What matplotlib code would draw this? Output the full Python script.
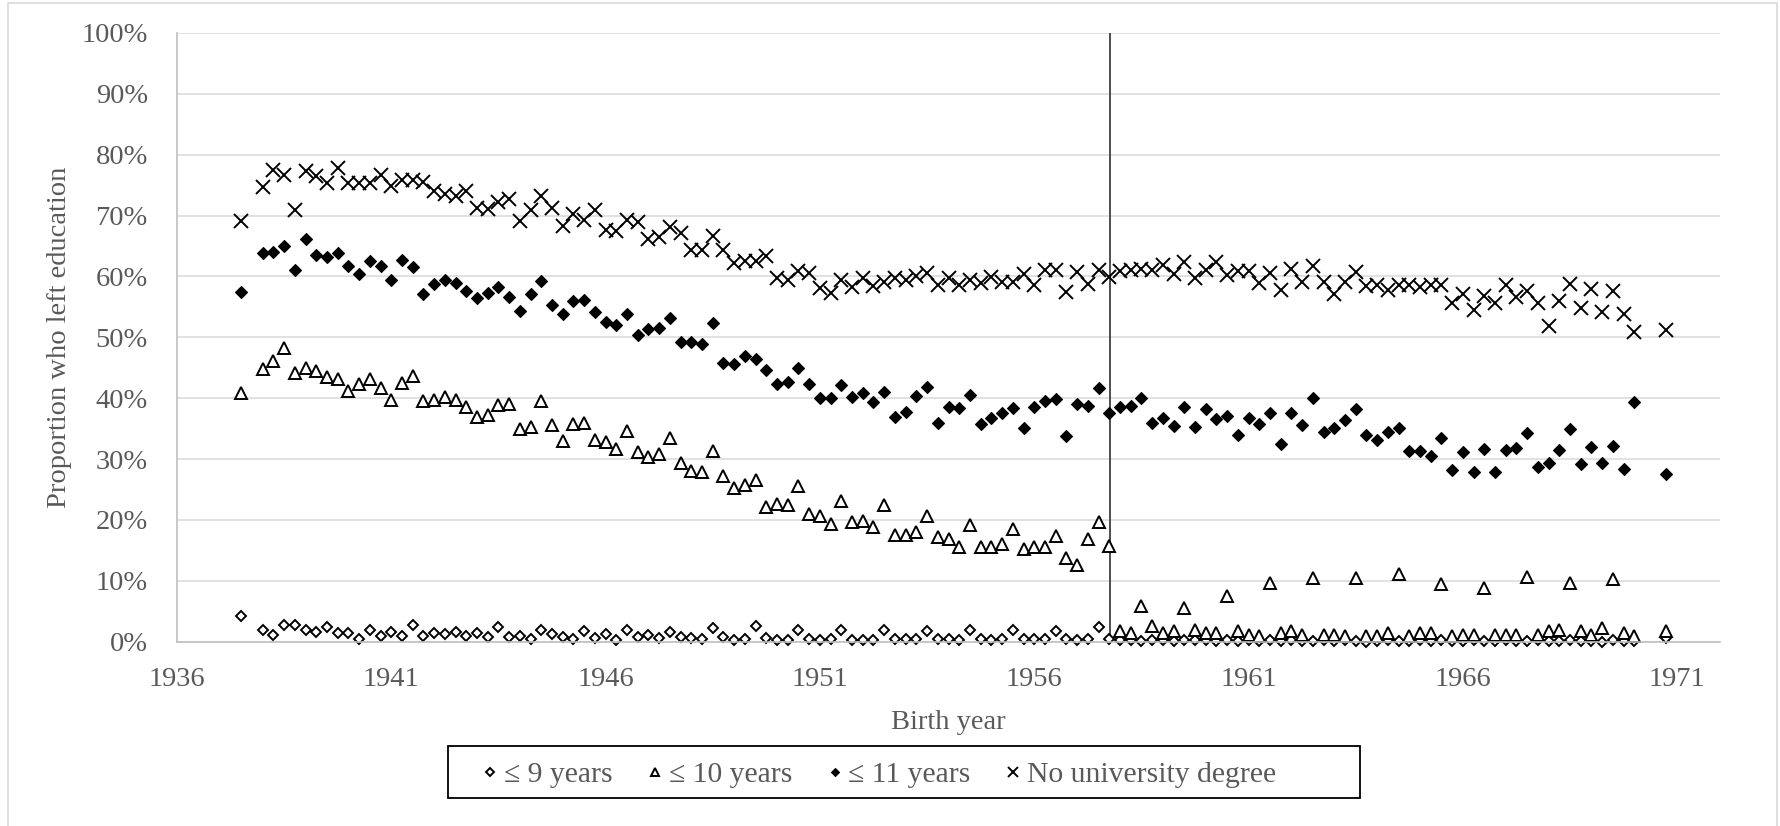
import numpy as np
import matplotlib
matplotlib.use("Agg")
import matplotlib.pyplot as plt
from matplotlib.patches import Rectangle
from matplotlib.ticker import FuncFormatter

plt.rcParams['font.family'] = ['Liberation Serif', 'DejaVu Serif']

###########################
### DATA ###
###########################
# birth quarter: 1937 Q3, then every quarter 1938 Q1 .. 1970 Q1, then 1970 Q4
birth_year = [1937.5] + list(np.arange(1938.0, 1970.01, 0.25)) + [1970.75]

# proportion (%) who left education with at most 9 years of schooling
le9_years = [4.2,
             1.9, 1.1, 2.7, 2.7,  1.9, 1.6, 2.4, 1.5,  1.4, 0.5, 1.9, 1.0,  1.6, 1.0, 2.7, 1.0,
             1.4, 1.2, 1.6, 1.0,  1.4, 0.7, 2.4, 0.8,  1.0, 0.4, 1.9, 1.2,  0.7, 0.5, 1.7, 0.6,
             1.2, 0.3, 1.9, 0.7,  1.1, 0.6, 1.6, 0.8,  0.6, 0.5, 2.2, 0.8,  0.3, 0.4, 2.6, 0.6,
             0.2, 0.3, 2.0, 0.5,  0.3, 0.4, 2.0, 0.3,  0.3, 0.3, 2.0, 0.5,  0.5, 0.4, 1.7, 0.5,
             0.4, 0.3, 1.9, 0.5,  0.2, 0.4, 2.0, 0.4,  0.4, 0.4, 1.8, 0.4,  0.3, 0.4, 2.4, 0.5,
             0.3, 0.2, 0.1, 0.3,  0.2, 0.1, 0.2, 0.2,  0.3, 0.1, 0.2, 0.1,  0.2, 0.1, 0.3, 0.1,
             0.2, 0.1, 0.1, 0.2,  0.1, 0.2, 0.1, 0.0,  0.1, 0.2, 0.1, 0.1,  0.2, 0.1, 0.2, 0.1,
             0.1, 0.2, 0.1, 0.1,  0.2, 0.1, 0.1, 0.2,  0.1, 0.1, 0.2, 0.1,  0.1, 0.0, 0.2, 0.1,
             0.1,
             0.6]

# at most 10 years
le10_years = [40.8,
              44.8, 46.1, 48.3, 44.1,  44.9, 44.5, 43.5, 43.2,  41.2, 42.4, 43.2, 41.6,  39.7, 42.5, 43.7, 39.6,
              39.7, 40.2, 39.7, 38.5,  36.9, 37.2, 38.9, 39.0,  35.0, 35.2, 39.6, 35.6,  32.9, 35.7, 36.0, 33.2,
              32.8, 31.6, 34.6, 31.2,  30.3, 30.8, 33.4, 29.3,  28.0, 27.9, 31.4, 27.3,  25.3, 25.7, 26.5, 22.2,
              22.7, 22.4, 25.5, 21.0,  20.6, 19.4, 23.1, 19.7,  19.8, 18.9, 22.4, 17.5,  17.5, 18.0, 20.6, 17.2,
              16.8, 15.6, 19.1, 15.5,  15.5, 16.0, 18.5, 15.3,  15.6, 15.6, 17.3, 13.8,  12.6, 16.8, 19.7, 15.7,
              1.8, 1.5, 5.9, 2.6,  1.4, 1.8, 5.5, 1.9,  1.5, 1.4, 7.5, 1.7,  1.1, 0.9, 9.6, 1.4,
              1.7, 1.1, 10.5, 1.1,  1.1, 1.0, 10.4, 1.0,  0.9, 1.4, 11.2, 1.0,  1.4, 1.5, 9.5, 0.9,
              1.1, 1.1, 8.8, 1.1,  1.1, 1.1, 10.6, 1.1,  1.7, 1.9, 9.7, 1.7,  1.1, 2.2, 10.3, 1.5,
              1.0,
              1.7]

# at most 11 years
le11_years = [57.5,
              63.9, 64.0, 65.0, 61.0,  66.1, 63.5, 63.2, 63.9,  61.7, 60.4, 62.6, 61.7,  59.5, 62.7, 61.5, 57.1,
              58.8, 59.5, 58.9, 57.6,  56.4, 57.3, 58.3, 56.7,  54.4, 57.1, 59.2, 55.3,  53.8, 55.9, 56.2, 54.2,
              52.6, 52.0, 53.9, 50.4,  51.3, 51.6, 53.2, 49.3,  49.2, 48.9, 52.4, 45.8,  45.7, 46.9, 46.4, 44.7,
              42.4, 42.7, 45.0, 42.4,  40.0, 40.0, 42.1, 40.2,  40.8, 39.4, 41.0, 36.9,  37.8, 40.3, 41.8, 36.0,
              38.6, 38.4, 40.6, 35.7,  36.8, 37.5, 38.4, 35.1,  38.6, 39.6, 39.8, 33.8,  39.0, 38.7, 41.7, 37.6,
              38.6, 38.7, 40.1, 36.0,  36.7, 35.4, 38.5, 35.2,  38.2, 36.6, 37.1, 34.0,  36.8, 35.7, 37.6, 32.5,
              37.6, 35.6, 40.1, 34.5,  35.1, 36.4, 38.3, 34.0,  33.2, 34.4, 35.1, 31.3,  31.4, 30.5, 33.5, 28.2,
              31.2, 27.8, 31.6, 27.8,  31.5, 31.8, 34.3, 28.7,  29.4, 31.5, 35.0, 29.2,  32.0, 29.4, 32.2, 28.3,
              39.4,
              27.6]

# no university degree
no_degree = [69.1,
             74.7, 77.5, 76.6, 70.9,  77.3, 76.5, 75.4, 77.9,  75.4, 75.4, 75.3, 76.6,  74.9, 75.9, 75.8, 75.6,
             74.0, 73.5, 73.3, 74.1,  71.3, 71.1, 72.2, 72.7,  69.1, 71.0, 73.2, 71.3,  68.3, 70.3, 69.3, 70.9,
             67.7, 67.5, 69.2, 68.9,  66.2, 66.5, 68.2, 67.2,  64.3, 64.3, 66.7, 64.3,  62.2, 62.6, 62.6, 63.4,
             59.7, 59.5, 60.9, 60.6,  58.1, 57.3, 59.5, 58.3,  59.7, 58.4, 59.1, 59.8,  59.5, 60.0, 60.6, 58.6,
             59.7, 58.6, 59.4, 58.9,  59.9, 59.1, 59.1, 60.4,  58.6, 61.1, 61.0, 57.5,  60.8, 58.7, 61.1, 59.9,
             60.9, 61.1, 61.3, 61.1,  61.9, 60.4, 62.3, 59.8,  61.1, 62.4, 60.3, 60.9,  60.9, 58.9, 60.6, 57.8,
             61.3, 59.1, 61.7, 59.1,  57.2, 59.1, 60.8, 58.4,  58.6, 57.8, 58.6, 58.6,  58.3, 58.6, 58.6, 55.6,
             57.1, 54.5, 56.8, 55.7,  58.6, 56.7, 57.6, 55.6,  51.8, 55.9, 58.7, 54.8,  58.0, 54.2, 57.6, 53.8,
             50.9,
             51.2]

series_labels = ["\u2264 9 years", "\u2264 10 years", "\u2264 11 years", "No university degree"]
x_ticks = [1936, 1941, 1946, 1951, 1956, 1961, 1966, 1971]
y_ticks = [0, 10, 20, 30, 40, 50, 60, 70, 80, 90, 100]
cutoff_year = 1957.77  # vertical reform line

################
### PLOTTING ###
################
GRAY_TXT = '#595959'
W, H = 1780, 826

fig = plt.figure(figsize=(17.8, 8.26), dpi=100)
ax = fig.add_axes([177 / W, 1 - 641.7 / H, 1543 / W, 608.7 / H])

common = dict(linestyle='none', clip_on=False)
ax.plot(birth_year, le9_years, marker='D', ms=5.6, mfc='white', mec='black', mew=1.4,
        label=series_labels[0], **common)
ax.plot(birth_year, le10_years, marker='^', ms=8.5, mfc='white', mec='black', mew=1.4,
        label=series_labels[1], **common)
ax.plot(birth_year, le11_years, marker='D', ms=6.0, mfc='black', mec='black', mew=0.8,
        label=series_labels[2], **common)
ax.plot(birth_year, no_degree, marker='x', ms=9.5, mec='black', mew=1.4,
        label=series_labels[3], **common)

ax.axvline(cutoff_year, color='#404040', lw=1.3, zorder=1)

# axes and grid
ax.set_xlim(1936, 1972)
ax.set_ylim(0, 100)
ax.set_xticks(x_ticks)
ax.set_yticks(y_ticks)
ax.yaxis.set_major_formatter(FuncFormatter(lambda v, p: f"{v:.0f}%"))
ax.grid(axis='y', color='#d9d9d9', lw=1.1, zorder=0)
ax.set_axisbelow(True)
for side in ['top', 'right']:
    ax.spines[side].set_visible(False)
for side in ['left', 'bottom']:
    ax.spines[side].set_color('#bfbfbf')
    ax.spines[side].set_linewidth(1.2)
ax.tick_params(axis='both', length=0, labelsize=20.5, labelcolor=GRAY_TXT)
ax.tick_params(axis='y', pad=21)
ax.tick_params(axis='x', pad=18)

ax.set_xlabel('Birth year', fontsize=20.5, color=GRAY_TXT)
ax.set_ylabel('Proportion who left education', fontsize=20.5, color=GRAY_TXT)
ax.xaxis.set_label_coords(0.5, -0.112)
ax.yaxis.set_label_coords(-0.068, 0.5)

# legend below the plot (no frame here, box drawn separately like Excel's)
leg = fig.legend(loc='center left', bbox_to_anchor=(481.5 / W, 1 - 775 / H), ncol=4, fontsize=21.3,
                 markerscale=0.75, handlelength=0.6, handletextpad=0.15, columnspacing=1.15,
                 borderpad=0, borderaxespad=0, frameon=False, labelcolor=GRAY_TXT)
fig.patches.append(Rectangle((448 / W, 1 - 798 / H), 912 / W, 52 / H, transform=fig.transFigure,
                             fill=False, edgecolor='black', lw=1.3))

# light border round the whole chart
fig.patches.append(Rectangle((8 / W, -0.01), 1769 / W, 1.01 - 3 / H, transform=fig.transFigure,
                             fill=False, edgecolor='#d9d9d9', lw=1.2))

fig.savefig('out.png', dpi=100)
